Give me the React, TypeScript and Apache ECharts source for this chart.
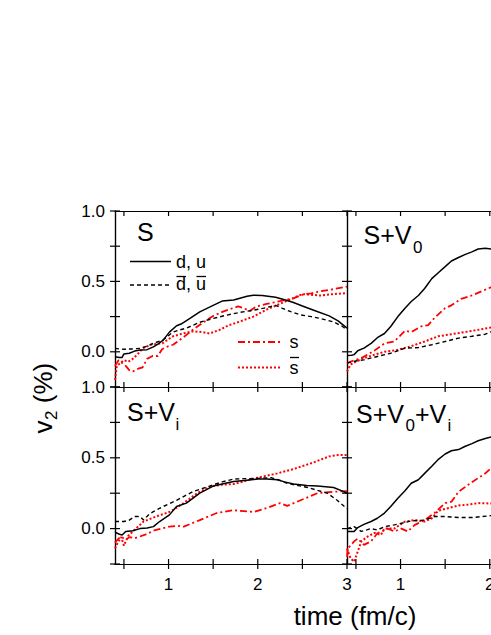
import React, { useEffect, useRef } from 'react';
import * as echarts from 'echarts';

// ---- axis values ----
const xTicks = [0.5, 1, 1.5, 2, 2.5, 3];
const xLabelsLeft = [1, 2, 3];
const xLabelsRight = [1, 2];
const yTicks = [-0.25, 0, 0.25, 0.5, 0.75, 1];
const yLabels = [0, 0.5, 1];
const xMin = 0.4;
const xMax = 3;
const yMin = -0.25;
const yMax = 1;

// ---- panel S ----
const S_du = [[0.4,-0.035],[0.45,-0.04],[0.48,-0.04],[0.5,-0.015],[0.56,-0.01],[0.62,0.005],[0.68,0.012],[0.76,0.015],[0.83,0.035],[0.88,0.055],[0.94,0.083],[1.01,0.14],[1.09,0.185],[1.14,0.197],[1.24,0.237],[1.35,0.284],[1.5,0.33],[1.6,0.36],[1.73,0.368],[1.88,0.395],[1.95,0.402],[2.05,0.4],[2.2,0.387],[2.3,0.37],[2.4,0.35],[2.5,0.325],[2.65,0.29],[2.8,0.255],[2.9,0.22],[3.0,0.168]];
const S_dubar = [[0.4,0.024],[0.45,0.02],[0.5,0.018],[0.58,0.02],[0.68,0.024],[0.76,0.04],[0.83,0.06],[0.94,0.085],[1.05,0.14],[1.12,0.155],[1.2,0.168],[1.35,0.21],[1.5,0.237],[1.65,0.26],[1.8,0.28],[1.95,0.295],[2.07,0.31],[2.2,0.33],[2.27,0.31],[2.37,0.285],[2.48,0.262],[2.6,0.25],[2.7,0.237],[2.85,0.212],[2.95,0.18],[3.0,0.154]];
const S_s = [[0.4,-0.1],[0.44,-0.06],[0.48,-0.08],[0.52,-0.1],[0.56,-0.13],[0.6,-0.14],[0.66,-0.12],[0.71,-0.11],[0.76,-0.05],[0.82,-0.03],[0.88,-0.03],[0.93,0.02],[1.0,0.04],[1.05,0.05],[1.16,0.1],[1.27,0.155],[1.38,0.205],[1.5,0.255],[1.61,0.285],[1.72,0.31],[1.78,0.322],[1.84,0.31],[1.91,0.29],[1.98,0.32],[2.1,0.34],[2.25,0.36],[2.4,0.38],[2.52,0.41],[2.6,0.415],[2.7,0.43],[2.85,0.445],[3.0,0.463]];
const S_sbar = [[0.4,-0.2],[0.42,-0.1],[0.46,-0.08],[0.5,-0.06],[0.55,-0.07],[0.59,-0.055],[0.65,-0.02],[0.71,0.025],[0.8,0.05],[0.93,0.06],[1.05,0.11],[1.16,0.13],[1.27,0.145],[1.38,0.14],[1.46,0.13],[1.57,0.155],[1.68,0.19],[1.8,0.215],[1.95,0.25],[2.1,0.3],[2.21,0.33],[2.32,0.36],[2.5,0.41],[2.7,0.4],[2.85,0.41],[3.0,0.416]];

// ---- panel S+V0 ----
const V0_du = [[0.4,-0.026],[0.45,-0.025],[0.48,-0.02],[0.52,0.007],[0.59,0.026],[0.67,0.06],[0.74,0.1],[0.82,0.13],[0.89,0.18],[0.97,0.25],[1.05,0.31],[1.12,0.357],[1.2,0.4],[1.27,0.45],[1.35,0.52],[1.42,0.56],[1.5,0.605],[1.57,0.645],[1.65,0.67],[1.72,0.69],[1.8,0.71],[1.87,0.73],[1.95,0.735],[2.02,0.73],[2.1,0.73]];
const V0_dubar = [[0.4,-0.08],[0.5,-0.065],[0.59,-0.057],[0.74,-0.033],[0.89,-0.01],[1.05,0.026],[1.2,0.03],[1.35,0.05],[1.5,0.073],[1.65,0.097],[1.8,0.11],[1.95,0.125],[2.02,0.144],[2.1,0.15]];
const V0_s = [[0.4,-0.08],[0.48,-0.06],[0.56,-0.045],[0.63,-0.02],[0.71,0.01],[0.82,0.06],[0.93,0.073],[1.05,0.15],[1.12,0.14],[1.23,0.18],[1.31,0.19],[1.38,0.24],[1.5,0.31],[1.57,0.33],[1.68,0.376],[1.8,0.4],[1.91,0.43],[2.02,0.46],[2.1,0.48]];
const V0_sbar = [[0.4,-0.14],[0.44,-0.09],[0.52,-0.064],[0.59,-0.045],[0.71,-0.02],[0.82,0.0],[0.97,0.014],[1.12,0.04],[1.27,0.073],[1.42,0.11],[1.57,0.125],[1.72,0.14],[1.87,0.156],[2.02,0.173],[2.1,0.18]];

// ---- panel S+Vi ----
const Vi_du = [[0.4,-0.026],[0.45,-0.04],[0.48,-0.045],[0.52,-0.02],[0.6,-0.015],[0.68,0.0],[0.76,0.005],[0.83,0.014],[0.9,0.05],[1.01,0.097],[1.09,0.156],[1.2,0.18],[1.35,0.25],[1.5,0.3],[1.6,0.315],[1.73,0.333],[1.85,0.34],[2.0,0.35],[2.1,0.35],[2.22,0.345],[2.3,0.33],[2.4,0.315],[2.55,0.305],[2.67,0.3],[2.85,0.29],[2.95,0.265],[3.0,0.25]];
const Vi_dubar = [[0.4,0.05],[0.5,0.05],[0.56,0.06],[0.62,0.085],[0.68,0.085],[0.72,0.06],[0.78,0.1],[0.83,0.12],[0.94,0.156],[1.09,0.2],[1.27,0.26],[1.46,0.3],[1.6,0.33],[1.73,0.35],[2.0,0.355],[2.15,0.36],[2.25,0.34],[2.33,0.32],[2.56,0.29],[2.78,0.25],[2.89,0.2],[3.0,0.14]];
const Vi_s = [[0.4,-0.1],[0.44,-0.07],[0.47,-0.056],[0.52,-0.08],[0.56,-0.06],[0.62,-0.068],[0.73,-0.045],[0.85,-0.01],[1.01,0.014],[1.1,0.02],[1.17,0.014],[1.35,0.06],[1.54,0.11],[1.73,0.13],[1.95,0.117],[2.1,0.145],[2.25,0.18],[2.33,0.16],[2.48,0.2],[2.67,0.25],[2.85,0.26],[3.0,0.265]];
const Vi_sbar = [[0.4,-0.14],[0.43,-0.1],[0.47,-0.06],[0.5,-0.12],[0.55,-0.05],[0.6,-0.02],[0.72,0.05],[0.86,0.085],[1.02,0.12],[1.17,0.18],[1.32,0.25],[1.48,0.3],[1.6,0.31],[1.73,0.315],[2.0,0.36],[2.22,0.39],[2.4,0.42],[2.62,0.466],[2.8,0.51],[2.9,0.52],[3.0,0.52]];

// ---- panel S+V0+Vi ----
const V0Vi_du = [[0.4,-0.02],[0.48,-0.02],[0.52,0.007],[0.59,0.03],[0.67,0.05],[0.74,0.073],[0.82,0.11],[0.89,0.156],[0.97,0.215],[1.05,0.267],[1.12,0.32],[1.2,0.345],[1.27,0.39],[1.35,0.44],[1.42,0.487],[1.5,0.527],[1.57,0.55],[1.65,0.558],[1.72,0.58],[1.8,0.6],[1.87,0.62],[1.95,0.636],[2.02,0.648],[2.1,0.66]];
const V0Vi_dubar = [[0.4,0.0],[0.48,0.014],[0.56,-0.02],[0.67,0.0],[0.74,-0.01],[0.82,0.014],[0.93,0.026],[1.12,0.054],[1.27,0.06],[1.38,0.085],[1.5,0.085],[1.65,0.078],[1.8,0.078],[1.91,0.085],[2.02,0.092],[2.1,0.095]];
const V0Vi_s = [[0.4,-0.2],[0.41,-0.14],[0.48,-0.09],[0.52,-0.07],[0.59,-0.115],[0.67,-0.09],[0.74,-0.033],[0.86,0.0],[0.93,-0.02],[1.01,0.0],[1.08,-0.02],[1.16,0.026],[1.27,0.06],[1.38,0.11],[1.5,0.18],[1.57,0.19],[1.65,0.26],[1.76,0.31],[1.87,0.357],[1.95,0.39],[2.02,0.43],[2.1,0.46]];
const V0Vi_sbar = [[0.4,-0.14],[0.44,-0.21],[0.48,-0.234],[0.52,-0.163],[0.56,-0.09],[0.63,-0.057],[0.71,-0.03],[0.78,-0.045],[0.82,0.0],[0.93,0.0],[1.05,0.05],[1.16,0.06],[1.27,0.05],[1.35,0.073],[1.42,0.125],[1.53,0.144],[1.65,0.163],[1.76,0.17],[1.87,0.18],[2.02,0.177],[2.1,0.175]];

const panelData = [
  [S_du, S_dubar, S_s, S_sbar],
  [V0_du, V0_dubar, V0_s, V0_sbar],
  [Vi_du, Vi_dubar, Vi_s, Vi_sbar],
  [V0Vi_du, V0Vi_dubar, V0Vi_s, V0Vi_sbar],
];
const seriesNames = ['d, u', 'anti d, anti u', 's', 'anti s'];

const FONT = '"Liberation Sans", Arial, sans-serif';
const RED = '#ff0000';
const TICK = 5;

const lineStyles = [
  { color: '#000', width: 1.5, type: 'solid' },
  { color: '#000', width: 1.4, type: [4, 3] },
  { color: RED, width: 1.8, type: [7, 3, 2, 3] },
  { color: RED, width: 2, type: [2, 2] },
];

const GRIDS = [
  { left: 115, top: 211, width: 232, height: 176, row: 0, col: 0 },
  { left: 347, top: 211, width: 232, height: 176, row: 0, col: 1 },
  { left: 115, top: 387, width: 232, height: 177, row: 1, col: 0 },
  { left: 347, top: 387, width: 232, height: 177, row: 1, col: 1 },
];

function txt(text: string, x: number, y: number, size: number, color = '#000', align = 'left') {
  return {
    type: 'text',
    x,
    y,
    silent: true,
    z: 100,
    style: {
      text,
      fill: color,
      fontSize: size,
      fontFamily: FONT,
      align,
      verticalAlign: 'middle',
      textAlign: align,
      textVerticalAlign: 'middle',
    },
  };
}

function seg(x1: number, y1: number, x2: number, y2: number, color: string, width: number, dash?: number[]) {
  return {
    type: 'line',
    silent: true,
    z: 100,
    shape: { x1, y1, x2, y2 },
    style: { stroke: color, lineWidth: width, lineDash: dash || null },
  };
}

const tickStyle = { stroke: '#000', lineWidth: 1.2 };

function buildOption() {
  const xAxis: any[] = [];
  const yAxis: any[] = [];
  const series: any[] = [];
  const axisLine = { show: true, onZero: false, lineStyle: { color: '#000', width: 1.2 } };
  const labelStyle = { color: '#000', fontSize: 17, fontFamily: FONT };

  GRIDS.forEach((g, gi) => {
    const baseX = xAxis.length;
    const xCommon = { type: 'value', gridIndex: gi, min: xMin, max: xMax, splitLine: { show: false }, axisLine, axisTick: { show: false } };
    xAxis.push({ ...xCommon, position: 'bottom', axisLabel: { show: false } });
    xAxis.push({ ...xCommon, position: 'top', axisLabel: { show: false } });
    if (g.row === 1) {
      xAxis.push({
        ...xCommon,
        position: 'bottom',
        axisLabel: { show: true, ...labelStyle, margin: 12, customValues: g.col === 0 ? xLabelsLeft : xLabelsRight, formatter: (v: number) => String(Math.round(v)) },
      });
    }
    const baseY = yAxis.length;
    const yCommon = { type: 'value', gridIndex: gi, min: yMin, max: yMax, splitLine: { show: false }, axisLine, axisTick: { show: false } };
    yAxis.push({ ...yCommon, position: 'left', axisLabel: { show: false } });
    yAxis.push({ ...yCommon, position: 'right', axisLabel: { show: false } });
    if (g.col === 0) {
      yAxis.push({
        ...yCommon,
        position: 'left',
        axisLabel: { show: true, ...labelStyle, margin: 10, customValues: yLabels, formatter: (v: number) => v.toFixed(1) },
      });
    }
    panelData[gi].forEach((data, si) => {
      series.push({
        type: 'line',
        name: seriesNames[si],
        xAxisIndex: baseX,
        yAxisIndex: baseY,
        data,
        symbol: 'none',
        showSymbol: false,
        silent: true,
        clip: true,
        lineStyle: lineStyles[si],
        z: 10 - si,
      });
    });
    const bottomOut = g.row === 1 ? TICK : 0;
    series.push({
      type: 'custom',
      xAxisIndex: baseX,
      yAxisIndex: baseY,
      silent: true,
      clip: false,
      z: 20,
      data: xTicks.map((v) => [v, yMin]),
      encode: { x: 0, y: 1 },
      renderItem: (params: any, api: any) => {
        const b = api.coord([api.value(0), yMin]);
        const t = api.coord([api.value(0), yMax]);
        return {
          type: 'group',
          children: [
            { type: 'line', shape: { x1: b[0], y1: b[1] - TICK, x2: b[0], y2: b[1] + bottomOut }, style: tickStyle },
            { type: 'line', shape: { x1: t[0], y1: t[1], x2: t[0], y2: t[1] + TICK }, style: tickStyle },
          ],
        };
      },
    });
    const leftOut = g.col === 0 ? TICK : 0;
    series.push({
      type: 'custom',
      xAxisIndex: baseX,
      yAxisIndex: baseY,
      silent: true,
      clip: false,
      z: 20,
      data: yTicks.map((v) => [xMin, v]),
      encode: { x: 0, y: 1 },
      renderItem: (params: any, api: any) => {
        const l = api.coord([xMin, api.value(1)]);
        const r = api.coord([xMax, api.value(1)]);
        return {
          type: 'group',
          children: [
            { type: 'line', shape: { x1: l[0] - leftOut, y1: l[1], x2: l[0] + TICK, y2: l[1] }, style: tickStyle },
            { type: 'line', shape: { x1: r[0] - TICK, y1: r[1], x2: r[0], y2: r[1] }, style: tickStyle },
          ],
        };
      },
    });
  });

  const graphic: any[] = [
    txt('S', 137, 232.3, 25),
    txt('S+V', 363.5, 235, 25),
    txt('0', 413, 247, 17),
    txt('S+V', 127, 412, 25),
    txt('i', 175.5, 424, 17),
    txt('S+V', 356, 414.3, 25),
    txt('0', 405.5, 425.6, 17),
    txt('+V', 415, 414.3, 25),
    txt('i', 447.5, 425.6, 17),
    seg(130, 261.5, 171, 261.5, '#000', 1.5),
    txt('d, u', 176, 262, 18),
    seg(130, 285, 171, 285, '#000', 1.4, [4, 3]),
    txt('d, u', 176, 284, 18),
    seg(176.5, 276.5, 186, 276.5, '#000', 1.3),
    seg(196.5, 276.5, 206, 276.5, '#000', 1.3),
    seg(238, 342, 280, 342, RED, 1.8, [7, 3, 2, 3]),
    txt('s', 289.5, 342, 18),
    seg(238, 367.5, 280, 367.5, RED, 2, [2, 2]),
    txt('s', 289.5, 367.6, 18),
    seg(290, 357.5, 299, 357.5, '#000', 1.3),
    txt('time (fm/c)', 355, 616, 26, '#000', 'center'),
    {
      type: 'group',
      x: 43,
      y: 397.5,
      rotation: Math.PI / 2,
      silent: true,
      children: [
        txt('v', -36, 0, 26),
        txt('2', -22.5, 8, 17),
        txt(' (%)', -13, 0, 26),
      ],
    },
  ];

  return {
    animation: false,
    backgroundColor: '#fff',
    grid: GRIDS.map((g) => ({ left: g.left, top: g.top, width: g.width, height: g.height, containLabel: false })),
    xAxis,
    yAxis,
    series,
    graphic,
  };
}

export default function App() {
  const ref = useRef<HTMLDivElement>(null);
  useEffect(() => {
    if (!ref.current) return;
    const chart = echarts.init(ref.current, undefined, { renderer: 'svg' });
    chart.setOption(buildOption() as any);
    return () => chart.dispose();
  }, []);
  return (
    <div style={{ position: 'fixed', left: 0, top: 0, width: 491, height: 635, overflow: 'hidden', background: '#fff' }}>
      <div ref={ref} style={{ width: 600, height: 635 }} />
    </div>
  );
}
